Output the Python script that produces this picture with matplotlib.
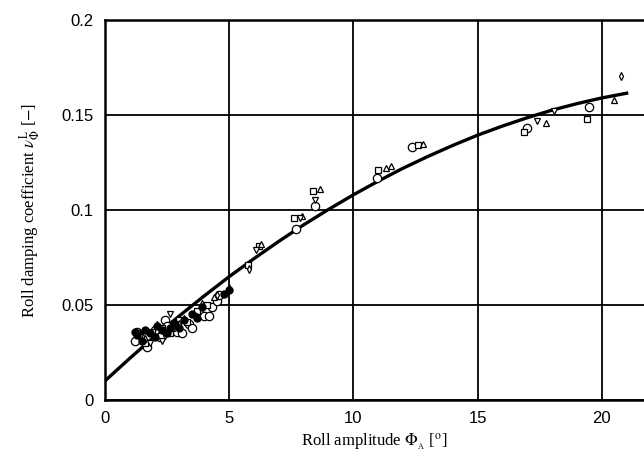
import matplotlib.pyplot as plt

plt.rcParams['mathtext.fontset'] = 'stix'

# fitted curve
curve_x = [0, 1, 2, 3, 4, 5, 6, 7, 8, 9, 10, 11, 12, 13, 14, 15, 16, 17, 18, 19, 20, 21]
curve_y = [0.0100, 0.0219, 0.0334, 0.0443, 0.0548, 0.0649, 0.0744, 0.0835, 0.0922, 0.1003,
           0.1080, 0.1152, 0.1220, 0.1282, 0.1340, 0.1394, 0.1442, 0.1486, 0.1526, 0.1560,
           0.1590, 0.1615]

# measurements, one list pair per marker
circle_x = [1.2, 1.3, 1.7, 2.0, 2.2, 2.4, 2.5, 2.9, 3.1, 3.4, 3.5, 3.8, 4.0, 4.2, 4.3, 4.5, 4.6,
            7.7, 8.45, 10.95, 12.35, 17.0, 19.5]
circle_y = [0.031, 0.036, 0.028, 0.037, 0.033, 0.042, 0.039, 0.036, 0.035, 0.040, 0.038, 0.046,
            0.044, 0.044, 0.049, 0.052, 0.055, 0.090, 0.102, 0.117, 0.133, 0.143, 0.154]
square_x = [1.3, 1.6, 1.9, 2.3, 2.6, 3.0, 3.3, 3.7, 4.1, 5.75, 6.2, 7.6, 8.37, 11.0, 12.6, 16.85, 19.4]
square_y = [0.035, 0.030, 0.036, 0.038, 0.035, 0.042, 0.041, 0.047, 0.050, 0.071, 0.081, 0.096,
            0.110, 0.121, 0.134, 0.141, 0.148]
tri_up_x = [1.5, 2.1, 2.7, 3.2, 3.9, 4.4, 6.3, 7.95, 8.65, 11.3, 11.5, 12.8, 17.75, 20.5]
tri_up_y = [0.034, 0.040, 0.038, 0.043, 0.051, 0.054, 0.082, 0.097, 0.111, 0.122, 0.123, 0.135,
            0.146, 0.158]
tri_down_x = [1.4, 1.8, 2.3, 2.6, 3.6, 6.1, 7.85, 8.45, 17.4, 18.07]
tri_down_y = [0.033, 0.030, 0.031, 0.045, 0.044, 0.079, 0.096, 0.105, 0.147, 0.152]
diamond_x = [1.6, 2.4, 3.0, 4.5, 5.0, 5.8, 20.77]
diamond_y = [0.032, 0.034, 0.040, 0.055, 0.059, 0.069, 0.1705]
filled_x = [1.2, 1.3, 1.5, 1.6, 1.8, 2.0, 2.1, 2.3, 2.5, 2.6, 2.8, 3.0, 3.2, 3.5, 3.7, 3.9, 4.8, 5.0]
filled_y = [0.036, 0.034, 0.031, 0.037, 0.035, 0.033, 0.039, 0.037, 0.035, 0.038, 0.040, 0.038,
            0.042, 0.045, 0.043, 0.049, 0.056, 0.058]

x_ticks = [0, 5, 10, 15, 20]
y_ticks = [0, 0.05, 0.1, 0.15, 0.2]
y_tick_labels = ['0', '0.05', '0.1', '0.15', '0.2']

fig = plt.figure(figsize=(6.44, 4.57), dpi=100)
ax = fig.add_axes([0.163, 0.125, 0.837, 0.831])

ax.plot(curve_x, curve_y, color='black', lw=2.4, zorder=3)

ms = 5
ax.plot(circle_x, circle_y, 'o', mfc='white', mec='black', ms=ms + 1, mew=0.9, zorder=4)
ax.plot(square_x, square_y, 's', mfc='white', mec='black', ms=ms, mew=0.9, zorder=4)
ax.plot(tri_up_x, tri_up_y, '^', mfc='white', mec='black', ms=ms, mew=0.9, zorder=4)
ax.plot(tri_down_x, tri_down_y, 'v', mfc='white', mec='black', ms=ms, mew=0.9, zorder=4)
ax.plot(diamond_x, diamond_y, 'd', mfc='white', mec='black', ms=ms - 1, mew=0.9, zorder=4)
ax.plot(filled_x, filled_y, 'o', color='black', ms=ms, zorder=4)

ax.set_xlim(0, 21.7)
ax.set_ylim(0, 0.2)
ax.set_xticks(x_ticks)
ax.set_yticks(y_ticks)
ax.set_yticklabels(y_tick_labels)
ax.grid(True, color='black', lw=1.3)
ax.tick_params(length=0, pad=8, labelsize=12)
for lab in ax.get_xticklabels() + ax.get_yticklabels():
    lab.set_family('Liberation Sans')

for side in ['left', 'bottom', 'top']:
    ax.spines[side].set_linewidth(1.8)
ax.spines['right'].set_visible(False)

ax.set_xlabel(r'Roll amplitude $\Phi_{_{\rm A}}$ [$^{\rm o}$]', family='Liberation Serif',
              fontsize=12, labelpad=4)
ax.set_ylabel(r'Roll damping coefficient $\nu_{\Phi}^{\rm L}$ [$-$]', family='Liberation Serif',
              fontsize=12, labelpad=14)

fig.savefig('out.png', dpi=100)
